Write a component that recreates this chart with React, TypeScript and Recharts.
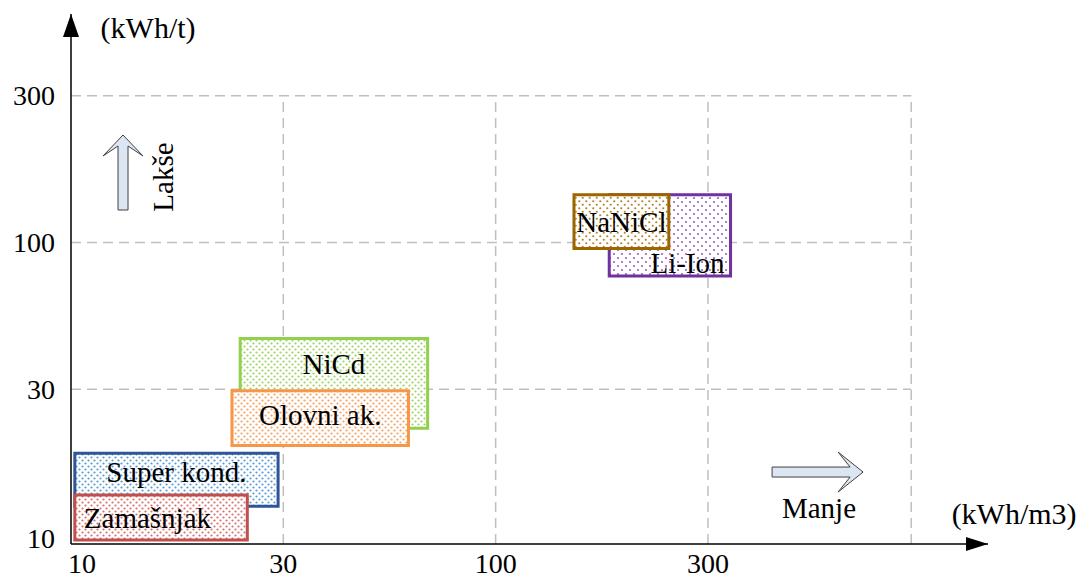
import { ComposedChart, XAxis, YAxis, ReferenceArea, ReferenceLine, ReferenceDot } from "recharts";

// tick labels; each step of the scale is drawn at the same distance
const X_TICKS = [10, 30, 100, 300];
const Y_TICKS = [10, 30, 100, 300];
const SCALE_STEPS = [10, 30, 100, 300, 1000];
const X_GRID_END = 950;
const Y_GRID_END = 300;

// boxes (kWh/m3 across, kWh/t up)
const NAMES = ["NiCd", "Olovni ak.", "Li-Ion", "NaNiCl", "Super kond.", "Zamašnjak"];
const X_FROM = [24, 23, 180, 150, 10.2, 10.2];
const X_TO = [68, 61, 341, 245, 29.2, 24.9];
const Y_FROM = [22.4, 19.7, 76, 95.3, 12.5, 9.7];
const Y_TO = [45.5, 29.7, 143, 143, 18.6, 13.6];

const FONT = "'Liberation Serif', 'Times New Roman', serif";
const X_MAX = 4.319;
const Y_MIN = -0.0545;
const Y_MAX = 3.558;

const BOX_STYLE: Record<string, { stroke: string; dot: string; step: number; align: "start" | "middle" | "end"; fy: number }> = {
  NiCd: { stroke: "#92D050", dot: "#9BD45E", step: 6, align: "middle", fy: 0.28 },
  "Olovni ak.": { stroke: "#F79646", dot: "#F7A060", step: 6, align: "middle", fy: 0.44 },
  "Li-Ion": { stroke: "#7030A0", dot: "#9A62C8", step: 8, align: "end", fy: 0.84 },
  NaNiCl: { stroke: "#9C6500", dot: "#B0842C", step: 7, align: "middle", fy: 0.5 },
  "Super kond.": { stroke: "#2F5597", dot: "#5B9BD5", step: 6, align: "middle", fy: 0.36 },
  Zamašnjak: { stroke: "#C0504D", dot: "#D9706D", step: 6, align: "start", fy: 0.5 },
};

// value -> position on the stepped log scale
function toPos(v: number) {
  let i = 0;
  while (i < SCALE_STEPS.length - 2 && v > SCALE_STEPS[i + 1]) i++;
  return i + Math.log(v / SCALE_STEPS[i]) / Math.log(SCALE_STEPS[i + 1] / SCALE_STEPS[i]);
}

const patId = (name: string) => "dots-" + NAMES.indexOf(name);

function Patterns() {
  return (
    <svg width={0} height={0} style={{ position: "absolute" }}>
      <defs>
        {NAMES.map((n) => {
          const s = BOX_STYLE[n];
          return (
            <pattern key={n} id={patId(n)} width={s.step} height={s.step} patternUnits="userSpaceOnUse">
              <rect width={s.step} height={s.step} fill="#fff" />
              <circle cx={s.step / 4} cy={s.step / 4} r={1.1} fill={s.dot} />
              <circle cx={(s.step * 3) / 4} cy={(s.step * 3) / 4} r={1.1} fill={s.dot} />
            </pattern>
          );
        })}
      </defs>
    </svg>
  );
}

const boxLabel = (text: string) => (props: any) => {
  const { x, y, width, height } = props.viewBox;
  const s = BOX_STYLE[text];
  const tx = s.align === "start" ? x + 9 : s.align === "end" ? x + width - 6 : x + width / 2;
  return (
    <text x={tx} y={y + height * s.fy} textAnchor={s.align} dominantBaseline="central" fontFamily={FONT} fontSize={29} fill="#000">
      {text}
    </text>
  );
};

const XTick = ({ x, y, payload }: any) => (
  <text x={x + (payload.value === 0 ? 11 : 0)} y={y + 19} textAnchor="middle" dominantBaseline="central" fontFamily={FONT} fontSize={28} fill="#000">
    {X_TICKS[payload.value]}
  </text>
);

const YTick = ({ x, y, payload }: any) => (
  <text x={x - 16} y={y + (payload.value === 0 ? 2 : 0)} textAnchor="end" dominantBaseline="central" fontFamily={FONT} fontSize={28} fill="#000">
    {Y_TICKS[payload.value]}
  </text>
);

const note = (text: string, size = 28, rotate = 0) => (p: any) => (
  <text
    x={p.cx}
    y={p.cy}
    textAnchor="middle"
    dominantBaseline="central"
    fontFamily={FONT}
    fontSize={size}
    fill="#000"
    transform={rotate ? `rotate(${rotate} ${p.cx} ${p.cy})` : undefined}
  >
    {text}
  </text>
);

const ARROW_FILL = "#DCE6F2";
const ARROW_LINE = "#404040";

const rightArrow = (p: any) => {
  const { cx, cy } = p;
  const pts = [
    [-45, -5], [33, -5], [21, -20], [46, 0], [21, 20], [33, 5], [-45, 5],
  ].map(([dx, dy]) => `${cx + dx},${cy + dy}`).join(" ");
  return <polygon points={pts} fill={ARROW_FILL} stroke={ARROW_LINE} strokeWidth={1} />;
};

const upArrow = (p: any) => {
  const { cx, cy } = p;
  const pts = [
    [-5, 38], [-5, -26], [-20, -16], [0, -37], [20, -16], [5, -26], [5, 38],
  ].map(([dx, dy]) => `${cx + dx},${cy + dy}`).join(" ");
  return <polygon points={pts} fill={ARROW_FILL} stroke={ARROW_LINE} strokeWidth={1} />;
};

const xHead = (p: any) => (
  <polygon points={`${p.cx},${p.cy} ${p.cx - 22},${p.cy - 7} ${p.cx - 22},${p.cy + 7}`} fill="#000" />
);
const yHead = (p: any) => (
  <polygon points={`${p.cx},${p.cy} ${p.cx - 8},${p.cy + 23} ${p.cx + 8},${p.cy + 23}`} fill="#000" />
);

const GRID = { stroke: "#BFBFBF", strokeWidth: 1.5, strokeDasharray: "10 6" };

export default function App() {
  const gridX = toPos(X_GRID_END);
  const gridY = toPos(Y_GRID_END);
  return (
    <div style={{ position: "absolute", left: 0, top: 0, width: 1087, height: 578, background: "#fff" }}>
      <Patterns />
      <ComposedChart width={1087} height={578} data={[]} margin={{ top: 14, right: 99, left: 0, bottom: 0 }}>
        <XAxis
          type="number"
          dataKey="x"
          domain={[0, X_MAX]}
          ticks={[0, 1, 2, 3]}
          interval={0}
          allowDataOverflow
          tick={XTick}
          tickLine={false}
          tickSize={0}
          tickMargin={0}
          axisLine={{ stroke: "#000", strokeWidth: 1.5 }}
          height={34}
        />
        <YAxis
          type="number"
          dataKey="y"
          domain={[Y_MIN, Y_MAX]}
          ticks={[0, 1, 2, 3]}
          interval={0}
          allowDataOverflow
          tick={YTick}
          tickLine={false}
          tickSize={0}
          tickMargin={0}
          axisLine={{ stroke: "#000", strokeWidth: 1.5 }}
          width={71}
        />
        {Y_TICKS.slice(1).map((t) => (
          <ReferenceLine key={"h" + t} zIndex={-50} segment={[{ x: 0, y: toPos(t) }, { x: gridX, y: toPos(t) }]} {...GRID} />
        ))}
        {[...X_TICKS.slice(1), X_GRID_END].map((t) => (
          <ReferenceLine key={"v" + t} zIndex={-50} segment={[{ x: toPos(t), y: Y_MIN }, { x: toPos(t), y: gridY }]} {...GRID} />
        ))}
        {NAMES.map((n, i) => (
          <ReferenceArea
            key={n}
            zIndex={100}
            x1={toPos(X_FROM[i])}
            x2={toPos(X_TO[i])}
            y1={toPos(Y_FROM[i])}
            y2={toPos(Y_TO[i])}
            fill={`url(#${patId(n)})`}
            fillOpacity={1}
            stroke={BOX_STYLE[n].stroke}
            strokeWidth={3}
            ifOverflow="visible"
            label={{ content: boxLabel(n) }}
          />
        ))}
        <ReferenceDot x={X_MAX} y={Y_MIN} r={0} ifOverflow="visible" shape={xHead} />
        <ReferenceDot x={0} y={Y_MAX} r={0} ifOverflow="visible" shape={yHead} />
        <ReferenceDot x={0.245} y={2.481} r={0} ifOverflow="visible" shape={upArrow} />
        <ReferenceDot x={0.433} y={2.447} r={0} ifOverflow="visible" shape={note("Lakše", 29, -90)} />
        <ReferenceDot x={3.514} y={0.436} r={0} ifOverflow="visible" shape={rightArrow} />
        <ReferenceDot x={3.523} y={0.191} r={0} ifOverflow="visible" shape={note("Manje", 29)} />
        <ReferenceDot x={0.363} y={3.463} r={0} ifOverflow="visible" shape={note("(kWh/t)", 30)} />
        <ReferenceDot x={4.442} y={0.15} r={0} ifOverflow="visible" shape={note("(kWh/m3)", 30)} />
      </ComposedChart>
    </div>
  );
}
